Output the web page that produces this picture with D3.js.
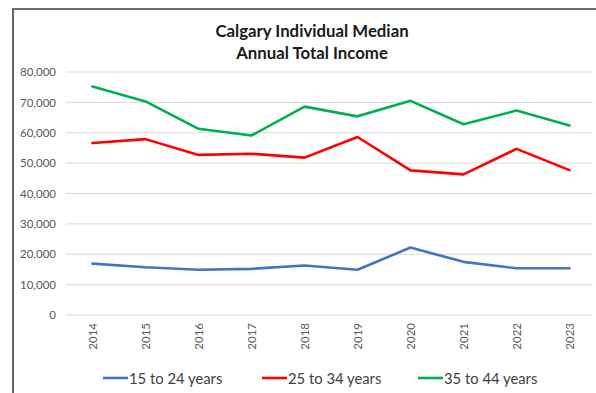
<!DOCTYPE html>
<html>
<head>
<meta charset="utf-8">
<script src="https://cdn.jsdelivr.net/npm/d3@7"></script>
<style>
  html, body { margin: 0; padding: 0; background: #fff; }
  svg { display: block; }
  text { font-family: Lato, "Open Sans", sans-serif; }
</style>
</head>
<body>
<svg id="chart" width="596" height="393"></svg>
<script>
// Calgary individual median annual total income by age group
const years = ["2014", "2015", "2016", "2017", "2018", "2019", "2020", "2021", "2022", "2023"];
const age15to24 = [16900, 15700, 14900, 15200, 16300, 14900, 22200, 17500, 15400, 15400];
const age25to34 = [56600, 57900, 52700, 53100, 51800, 58600, 47600, 46300, 54700, 47700];
const age35to44 = [75200, 70300, 61300, 59100, 68600, 65400, 70500, 62800, 67300, 62400];
const yTicks = [0, 10000, 20000, 30000, 40000, 50000, 60000, 70000, 80000];
const seriesNames = ["15 to 24 years", "25 to 34 years", "35 to 44 years"];
const seriesColors = ["#4472C4", "#FF0000", "#00B050"];
const titleLines = ["Calgary Individual Median", "Annual Total Income"];

const series = [age15to24, age25to34, age35to44].map((values, i) => ({
  name: seriesNames[i], color: seriesColors[i], values
}));

const svg = d3.select("#chart");

// outer frame of the chart area
svg.append("path")
  .attr("d", "M13,393 V9 H596")
  .attr("fill", "none")
  .attr("stroke", "#404040")
  .attr("stroke-width", 1.6);

const x = d3.scaleBand().domain(years).range([66, 596]);
const y = d3.scaleLinear().domain([0, 80000]).range([315, 72]);

// title
svg.append("g").selectAll("text").data(titleLines).join("text")
  .attr("x", 312).attr("y", (d, i) => 36.5 + i * 22)
  .attr("text-anchor", "middle")
  .attr("font-size", 16.8).attr("font-weight", 700).attr("fill", "#1a1a1a")
  .text(d => d);

// horizontal gridlines
svg.append("g").selectAll("line").data(yTicks).join("line")
  .attr("x1", 66).attr("x2", 593)
  .attr("y1", d => y(d)).attr("y2", d => y(d))
  .attr("stroke", "#d9d9d9").attr("stroke-width", 1);

// y axis labels
const yAxis = svg.append("g").attr("transform", "translate(56,0)")
  .call(d3.axisLeft(y).tickValues(yTicks).tickSize(0).tickPadding(0)
    .tickFormat(d3.format(",")));
yAxis.select(".domain").remove();
yAxis.selectAll("text").attr("font-size", 11.5).attr("fill", "#595959")
  .style("font-family", "Lato, sans-serif");

// x axis labels, rotated
const xAxis = svg.append("g").attr("transform", "translate(0,315)")
  .call(d3.axisBottom(x).tickSize(0).tickPadding(0));
xAxis.select(".domain").remove();
xAxis.selectAll("text")
  .attr("font-size", 11.5).attr("fill", "#595959")
  .style("font-family", "Lato, sans-serif")
  .attr("text-anchor", "end")
  .attr("dy", null).attr("y", 0).attr("x", 0)
  .attr("transform", "translate(4,8) rotate(-90)");

// series lines
const line = d3.line()
  .x((d, i) => x(years[i]) + x.bandwidth() / 2)
  .y(d => y(d));

svg.append("g").selectAll("path").data(series).join("path")
  .attr("d", d => line(d.values))
  .attr("fill", "none")
  .attr("stroke", d => d.color)
  .attr("stroke-width", 2.6)
  .attr("stroke-linejoin", "round")
  .attr("stroke-linecap", "round");

// legend
const legendX = [103, 262, 418];
const legend = svg.append("g").selectAll("g").data(series).join("g")
  .attr("transform", (d, i) => `translate(${legendX[i]},378)`);
legend.append("line")
  .attr("x1", 0).attr("x2", 25).attr("y1", 0).attr("y2", 0)
  .attr("stroke", d => d.color).attr("stroke-width", 2.6);
legend.append("text")
  .attr("x", 26).attr("y", 5.5)
  .attr("font-size", 14.8).attr("fill", "#404040")
  .text(d => d.name);
</script>
</body>
</html>
